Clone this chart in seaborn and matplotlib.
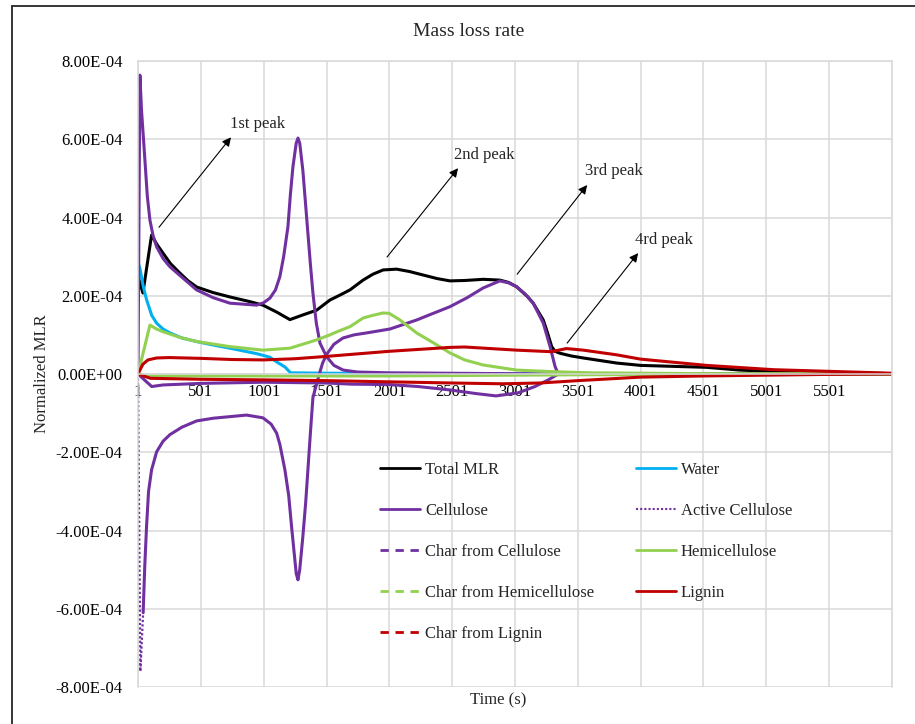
import matplotlib
matplotlib.use("Agg")
import matplotlib.pyplot as plt
from matplotlib.lines import Line2D
import seaborn as sns

# ---- data: time step index and normalized mass loss rate of each component ----
total_t = [1, 40, 109, 150, 200, 260, 334, 400, 470, 600, 732, 891, 995, 1106, 1210,
           1313, 1422, 1528, 1610, 1688, 1792, 1870, 1952, 2059, 2160, 2270, 2380,
           2483, 2600, 2748, 2881, 2950, 3014, 3100, 3146, 3226, 3260, 3293, 3320,
           3359, 3450, 3544, 3810, 4000, 4527, 4790, 5200, 6001]
total_v = [2.5e-4, 2.07e-4, 3.55e-4, 3.32e-4, 3.09e-4, 2.82e-4, 2.58e-4, 2.38e-4,
           2.22e-4, 2.08e-4, 1.97e-4, 1.85e-4, 1.76e-4, 1.58e-4, 1.39e-4, 1.51e-4,
           1.63e-4, 1.89e-4, 2.02e-4, 2.15e-4, 2.40e-4, 2.55e-4, 2.66e-4, 2.68e-4,
           2.62e-4, 2.53e-4, 2.44e-4, 2.38e-4, 2.39e-4, 2.42e-4, 2.40e-4, 2.34e-4,
           2.23e-4, 1.98e-4, 1.81e-4, 1.38e-4, 1.05e-4, 7.0e-5, 5.8e-5, 5.3e-5,
           4.6e-5, 4.1e-5, 2.8e-5, 2.2e-5, 1.7e-5, 1.0e-5, 5e-6, 1e-6]

water_t = [1, 16, 42, 69, 110, 149, 200, 255, 350, 467, 600, 732, 945, 1050, 1104,
           1170, 1215, 1500, 2500, 3500, 6001]
water_v = [2.85e-4, 2.7e-4, 2.25e-4, 1.9e-4, 1.5e-4, 1.3e-4, 1.15e-4, 1.05e-4,
           9.2e-5, 8.3e-5, 7.4e-5, 6.6e-5, 5.2e-5, 4.3e-5, 3.1e-5, 1.8e-5, 3e-6,
           2e-6, 1e-6, 0, 0]

cell_t = [1, 16, 29, 56, 75, 96, 120, 149, 201, 255, 334, 467, 600, 732, 945, 1000,
          1051, 1095, 1130, 1160, 1194, 1214, 1234, 1260, 1274, 1288, 1313, 1333,
          1353, 1373, 1393, 1420, 1449, 1502, 1560, 1634, 1750, 2000, 2900, 3300, 6001]
cell_v = [0, 7.64e-4, 6.74e-4, 5.47e-4, 4.55e-4, 3.93e-4, 3.55e-4, 3.25e-4,
          2.95e-4, 2.74e-4, 2.52e-4, 2.15e-4, 1.95e-4, 1.81e-4, 1.76e-4, 1.82e-4,
          1.94e-4, 2.15e-4, 2.49e-4, 3.0e-4, 3.76e-4, 4.6e-4, 5.3e-4, 5.9e-4,
          6.03e-4, 5.9e-4, 5.2e-4, 4.4e-4, 3.6e-4, 2.8e-4, 2.07e-4, 1.3e-4, 7.9e-5,
          4.4e-5, 2.2e-5, 1.0e-5, 5e-6, 3e-6, 1e-6, 0, 0]

active_t = [1, 20, 42, 55, 69, 85, 109, 149, 200, 255, 350, 467, 600, 732, 865, 995,
            1060, 1104, 1130, 1170, 1200, 1223, 1260, 1274, 1288, 1313, 1335, 1353,
            1373, 1393, 1444, 1470, 1502, 1560, 1632, 1720, 1820, 2006, 2218, 2350,
            2483, 2620, 2748, 2881, 2950, 3014, 3080, 3146, 3226, 3280, 3320, 3345, 6001]
active_v = [0, -7.6e-4, -6.1e-4, -4.9e-4, -3.9e-4, -3.0e-4, -2.45e-4, -1.99e-4,
            -1.72e-4, -1.55e-4, -1.36e-4, -1.2e-4, -1.13e-4, -1.09e-4, -1.05e-4,
            -1.12e-4, -1.28e-4, -1.51e-4, -1.8e-4, -2.45e-4, -3.1e-4, -3.9e-4,
            -5.1e-4, -5.26e-4, -5.0e-4, -4.15e-4, -3.3e-4, -2.45e-4, -1.5e-4, -6e-5,
            0, 2.8e-5, 5.0e-5, 7.6e-5, 9.2e-5, 1.0e-4, 1.05e-4, 1.15e-4, 1.38e-4,
            1.55e-4, 1.72e-4, 1.95e-4, 2.2e-4, 2.38e-4, 2.33e-4, 2.23e-4, 2.05e-4,
            1.81e-4, 1.3e-4, 7e-5, 1.9e-5, 0, 0]

charcell_t = [1, 110, 200, 500, 1000, 1500, 1700, 2000, 2230, 2490, 2690, 2850,
              3027, 3160, 3266, 3346, 6001]
charcell_v = [0, -3.2e-5, -2.8e-5, -2.4e-5, -2.1e-5, -2.3e-5, -2.6e-5, -2.7e-5,
              -3.2e-5, -4.1e-5, -5.0e-5, -5.6e-5, -4.8e-5, -3.2e-5, -1.5e-5, 0, 0]

hemi_t = [1, 96, 149, 200, 330, 467, 732, 995, 1210, 1422, 1528, 1600, 1688, 1792,
          1870, 1952, 2000, 2086, 2150, 2218, 2350, 2483, 2600, 2748, 3014, 3300,
          3600, 4500, 6001]
hemi_v = [0, 1.25e-4, 1.15e-4, 1.08e-4, 9.4e-5, 8.3e-5, 7.0e-5, 6.1e-5, 6.6e-5,
          8.7e-5, 1.0e-4, 1.1e-4, 1.21e-4, 1.43e-4, 1.5e-4, 1.56e-4, 1.55e-4,
          1.38e-4, 1.22e-4, 1.05e-4, 8.0e-5, 5.4e-5, 3.6e-5, 2.3e-5, 1.0e-5, 6e-6,
          3e-6, 1e-6, 0]

charhemi_t = [1, 60, 1000, 2000, 2500, 3500, 4500, 5500, 6001]
charhemi_v = [0, -5e-6, -5e-6, -5e-6, -4e-6, -2e-6, -1e-6, 0, 0]

lignin_t = [1, 40, 80, 150, 250, 500, 750, 1000, 1250, 1500, 2000, 2483, 2600,
            3014, 3290, 3410, 3544, 3810, 4000, 4527, 5060, 6001]
lignin_v = [0, 2.5e-5, 3.6e-5, 4.1e-5, 4.2e-5, 4.0e-5, 3.7e-5, 3.6e-5, 3.9e-5,
            4.5e-5, 5.8e-5, 6.8e-5, 6.9e-5, 6.1e-5, 5.7e-5, 6.5e-5, 6.1e-5, 4.9e-5,
            3.8e-5, 2.2e-5, 1.1e-5, 2e-6]

charlig_t = [1, 100, 500, 1000, 1500, 2000, 2500, 2900, 3200, 3500, 4000, 4500,
             5000, 5500, 6001]
charlig_v = [0, -1.1e-5, -1.35e-5, -1.5e-5, -1.7e-5, -2.0e-5, -2.3e-5, -2.5e-5,
             -2.3e-5, -1.7e-5, -8e-6, -5e-6, -3e-6, -1e-6, 0]

x_ticks = list(range(1, 6002, 500))
y_ticks = [-8e-4, -6e-4, -4e-4, -2e-4, 0, 2e-4, 4e-4, 6e-4, 8e-4]

C_BLACK = "#000000"
C_WATER = "#00B0F0"
C_CELL = "#7030A0"
C_HEMI = "#92D050"
C_LIG = "#C00000"
GRID = "#D9D9D9"

sns.set_style("white")
plt.rcParams["font.family"] = ["Liberation Serif", "DejaVu Serif"]

W, H = 915, 724
fig = plt.figure(figsize=(W / 100, H / 100), dpi=100)
ax = fig.add_axes([138 / W, 1 - 687 / H, (892 - 138) / W, (687 - 61) / H])

lw = 2.2
for t, v, c in [(total_t, total_v, C_BLACK), (water_t, water_v, C_WATER),
                (cell_t, cell_v, C_CELL)]:
    sns.lineplot(x=t, y=v, color=c, lw=lw, ax=ax, estimator=None, sort=False)

# active cellulose: the steep start shows its dotted pattern
sns.lineplot(x=active_t[:3], y=active_v[:3], color=C_CELL, lw=1.6,
             linestyle=(0, (1, 1)), ax=ax, estimator=None, sort=False)
sns.lineplot(x=active_t[2:], y=active_v[2:], color=C_CELL, lw=lw, ax=ax,
             estimator=None, sort=False)

for t, v, c in [(charcell_t, charcell_v, C_CELL), (hemi_t, hemi_v, C_HEMI),
                (charhemi_t, charhemi_v, C_HEMI), (lignin_t, lignin_v, C_LIG),
                (charlig_t, charlig_v, C_LIG)]:
    sns.lineplot(x=t, y=v, color=c, lw=lw, ax=ax, estimator=None, sort=False)

ax.set_xlim(1, 6001)
ax.set_ylim(-8e-4, 8e-4)
ax.set_xticks(x_ticks)
ax.set_xticklabels([str(x) if x < 6001 else "" for x in x_ticks])
ax.set_yticks(y_ticks)
ax.set_yticklabels(["{:.2E}".format(y) for y in y_ticks])
ax.grid(True, color=GRID, lw=1.1)
ax.set_axisbelow(True)
for s in ax.spines.values():
    s.set_color(GRID)
    s.set_linewidth(1.1)
ax.spines["bottom"].set_position(("data", 0))
ax.tick_params(axis="both", length=0, labelsize=12, colors="black")
ax.tick_params(axis="x", pad=7)
ax.tick_params(axis="y", pad=11)
ax.set_xlabel("")
ax.set_ylabel("")

fig.text(469 / W, 1 - 31 / H, "Mass loss rate", ha="center", va="center", fontsize=14)
fig.text(498 / W, 1 - 700 / H, "Time (s)", ha="center", va="center", fontsize=12)
fig.text(42 / W, 1 - 374 / H, "Normalized MLR", ha="center", va="center",
         rotation=90, fontsize=12)

# peak annotations
peaks = [
    ("1st peak", (168, 3.75e-4), (741, 6.05e-4), (733, 6.39e-4)),
    ("2nd peak", (1983, 2.99e-4), (2548, 5.26e-4), (2516, 5.59e-4)),
    ("3rd peak", (3018, 2.55e-4), (3575, 4.83e-4), (3559, 5.18e-4)),
    ("4rd peak", (3416, 7.9e-5), (3981, 3.09e-4), (3957, 3.42e-4)),
]
for label, tail, head, txt in peaks:
    ax.annotate("", xy=head, xytext=tail,
                arrowprops=dict(arrowstyle="-|>", lw=0.8, color="black",
                                mutation_scale=13, shrinkA=0, shrinkB=0))
    ax.text(txt[0], txt[1], label, ha="left", va="center", fontsize=12)

handles = [
    Line2D([], [], color=C_BLACK, lw=2, label="Total MLR"),
    Line2D([], [], color=C_CELL, lw=2, label="Cellulose"),
    Line2D([], [], color=C_CELL, lw=2, dashes=(3.0, 2.4), label="Char from Cellulose"),
    Line2D([], [], color=C_HEMI, lw=2, dashes=(3.0, 2.4), label="Char from Hemicellulose"),
    Line2D([], [], color=C_LIG, lw=2, dashes=(3.0, 2.4), label="Char from Lignin"),
    Line2D([], [], color=C_WATER, lw=2, label="Water"),
    Line2D([], [], color=C_CELL, lw=1.5, linestyle=(0, (1, 1)), label="Active Cellulose"),
    Line2D([], [], color=C_HEMI, lw=2, label="Hemicellulose"),
    Line2D([], [], color=C_LIG, lw=2, label="Lignin"),
]
ax.legend(handles=handles, ncol=2, frameon=False, fontsize=12,
          loc="upper left", bbox_to_anchor=(380 / W, 1 - 462 / H),
          bbox_transform=fig.transFigure, borderpad=0, borderaxespad=0,
          handlelength=2.4, handletextpad=0.3, labelspacing=1.5,
          columnspacing=2.5)

# outer chart-area border (left and top edges)
fig.add_artist(Line2D([12 / W, 12 / W], [0, 1 - 6 / H], transform=fig.transFigure,
                      color="#262626", lw=1.3))
fig.add_artist(Line2D([12 / W, 1], [1 - 6 / H, 1 - 6 / H], transform=fig.transFigure,
                      color="#262626", lw=1.3))

fig.savefig("out.png", dpi=100)
